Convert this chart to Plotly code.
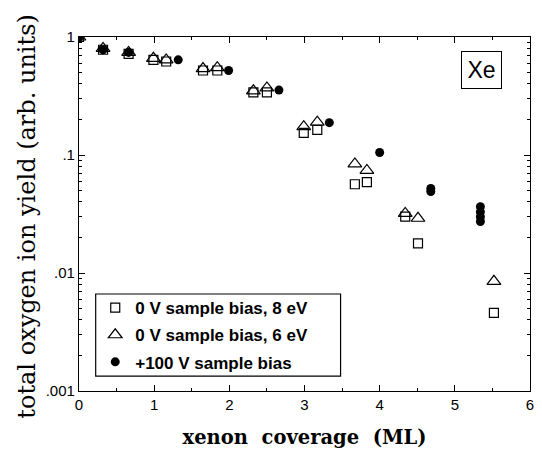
import plotly.graph_objects as go

# Oxygen ion yield vs. xenon coverage for three measurement conditions
sq_x = [0.0, 0.32, 0.66, 0.99, 1.16, 1.65, 1.84, 2.32, 2.50, 2.99, 3.17, 3.67, 3.83, 4.34, 4.51, 5.52]
sq_y = [1.0, 0.78, 0.72, 0.64, 0.62, 0.52, 0.52, 0.34, 0.34, 0.154, 0.163, 0.0565, 0.059, 0.030, 0.0178, 0.0046]

tri_x = [0.0, 0.32, 0.66, 0.99, 1.16, 1.65, 1.84, 2.32, 2.50, 2.99, 3.17, 3.67, 3.83, 4.34, 4.51, 5.52]
tri_y = [1.0, 0.80, 0.74, 0.66, 0.64, 0.54, 0.55, 0.35, 0.37, 0.174, 0.19, 0.084, 0.074, 0.032, 0.0291, 0.0085]

dot_x = [0.0, 0.32, 0.66, 1.32, 1.99, 2.66, 3.33, 4.0, 4.68, 4.68, 5.34, 5.34, 5.34, 5.34]
dot_y = [1.0, 0.78, 0.74, 0.64, 0.52, 0.355, 0.188, 0.105, 0.052, 0.049, 0.0365, 0.033, 0.030, 0.0273]

names = ["0 V sample bias, 8 eV", "0 V sample bias, 6 eV", "+100 V sample bias"]

y_ticks = [0.001, 0.01, 0.1, 1]
y_ticktext = [".001", ".01", ".1", "1"]
x_ticks = [0, 1, 2, 3, 4, 5, 6]

# minor ticks: every half monolayer, and 2..9 within each decade
x_minor = [t + 0.5 for t in x_ticks[:-1]]
y_minor = [m * 10.0 ** k for k in range(-3, 0) for m in range(2, 10)]

fig = go.Figure()
fig.add_trace(go.Scatter(
    x=sq_x, y=sq_y, mode="markers", name=names[0], legendgroup="a",
    marker=dict(symbol="square-open", size=9, color="black", line=dict(width=1.2, color="black")),
))
fig.add_trace(go.Scatter(
    x=tri_x, y=tri_y, mode="markers", name=names[1], legendgroup="b",
    marker=dict(symbol="triangle-up-open", size=12, color="black", line=dict(width=1.2, color="black")),
))
fig.add_trace(go.Scatter(
    x=dot_x, y=dot_y, mode="markers", name=names[2], legendgroup="c",
    marker=dict(symbol="circle", size=9, color="black"),
))

axis_common = dict(
    showline=True, linecolor="black", linewidth=1.2, mirror="allticks",
    ticks="inside", ticklen=6, tickwidth=1, tickcolor="black",
    showgrid=False, zeroline=False,
    tickfont=dict(family="Liberation Sans, Arial, sans-serif", size=15, color="black"),
)

fig.update_xaxes(
    range=[0, 6], tickvals=x_ticks,
    minor=dict(ticks="inside", tickvals=x_minor, ticklen=3, tickwidth=1, tickcolor="black", showgrid=False),
    title=dict(text="<b>xenon  coverage  (ML)</b>", standoff=18,
               font=dict(family="DejaVu Serif, serif", size=19.5, color="black")),
    **axis_common,
)
fig.update_yaxes(
    type="log", range=[-3, 0], tickvals=y_ticks, ticktext=y_ticktext,
    minor=dict(ticks="inside", tickvals=y_minor, ticklen=3, tickwidth=1, tickcolor="black", showgrid=False),
    **axis_common,
)

# vertical axis title
fig.add_annotation(
    x=-0.114, y=0.494, xref="paper", yref="paper", xanchor="center", yanchor="middle",
    text="total oxygen ion yield (arb. units)", textangle=-90, showarrow=False,
    font=dict(family="DejaVu Serif, serif", size=24, color="black"),
)

# element label in the upper right corner
fig.add_annotation(
    x=0.893, y=0.907, xref="paper", yref="paper", xanchor="center", yanchor="middle",
    text="Xe", showarrow=False, width=31, height=28,
    font=dict(family="Liberation Sans, Arial, sans-serif", size=23, color="black"),
    bordercolor="black", borderwidth=1, borderpad=4, bgcolor="white",
)

# frame around the legend
fig.add_shape(
    type="rect", xref="paper", yref="paper",
    x0=0.037, x1=0.580, y0=0.042, y1=0.274,
    line=dict(color="black", width=1.2), fillcolor="rgba(0,0,0,0)", layer="above",
)

fig.update_layout(
    width=542, height=456,
    margin=dict(l=79, r=8, t=37, b=65),
    paper_bgcolor="white", plot_bgcolor="white",
    showlegend=True,
    legend=dict(
        x=0.036, y=0.285, xanchor="left", yanchor="top",
        borderwidth=0, bgcolor="rgba(0,0,0,0)",
        font=dict(family="Liberation Sans, Arial, sans-serif", size=17, color="black", weight="bold"),
        itemwidth=30, tracegroupgap=2,
    ),
)

fig.write_html("out.html")
